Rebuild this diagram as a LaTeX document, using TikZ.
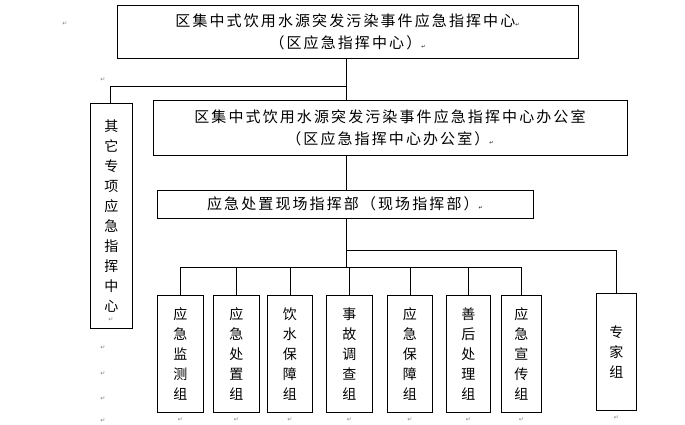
\documentclass[tikz,border=0pt]{standalone}
\usepackage{fontspec}
\newfontfamily\cjk[LetterSpace=14]{Noto Sans CJK SC}
\newfontfamily\djv{DejaVu Sans}
\begin{document}
\begin{tikzpicture}[x=1pt,y=-1pt,
  box/.style={draw,line width=0.8pt,inner sep=0pt,font=\cjk\fontsize{15}{22}\selectfont,align=center},
  vbox/.style={draw,line width=0.8pt,inner sep=0pt,font=\cjk\fontsize{14}{20}\selectfont,align=center,anchor=north west},
  ln/.style={line width=0.6pt},
  pm/.style={font=\djv\fontsize{6}{6}\selectfont,text=gray,inner sep=0pt}]
\useasboundingbox (0,0) rectangle (685,425);
\node[box,minimum width=461,minimum height=53] (top) at (347.5,31.5) {区集中式饮用水源突发污染事件应急指挥中心{\djv\tiny↵}\\（区应急指挥中心）{\djv\tiny↵}};
\node[box,minimum width=474,minimum height=55] (off) at (390,127.5) {区集中式饮用水源突发污染事件应急指挥中心办公室\\（区应急指挥中心办公室）{\djv\tiny↵}};
\node[box,minimum width=376,minimum height=28] (site) at (345,204) {应急处置现场指挥部（现场指挥部）{\djv\tiny↵}};
\node[vbox,minimum width=42,minimum height=225] (other) at (90,103) {其\\它\\专\\项\\应\\急\\指\\挥\\中\\心};
\node[pm] at (111,320) {↵};
\foreach \n/\xa/\w/\t in {g1/157/46/{应\\急\\监\\测\\组},g2/213/46/{应\\急\\处\\置\\组},g3/267/45/{饮\\水\\保\\障\\组},g4/326/46/{事\\故\\调\\查\\组},g5/387/45/{应\\急\\保\\障\\组},g6/446/44/{善\\后\\处\\理\\组},g7/501/40/{应\\急\\宣\\传\\组}}
  {\node[vbox,minimum width=\w,minimum height=117] (\n) at (\xa,295) {\t};
   \node[pm] at ([yshift=-7]\n.south) {↵};}
\node[vbox,minimum width=40,minimum height=117] (g8) at (596,293) {专\\家\\组};
\node[pm] at ([yshift=-7]g8.south) {↵};
\coordinate (j1) at (346,86);
\coordinate (l1) at (110,86);
\coordinate (j2) at (346,250);
\coordinate (r2) at (616,250);
\coordinate (j3) at (346,267);
\coordinate (a3) at (180,267);
\coordinate (b3) at (521,267);
\draw[ln] (top.south -| j1) -- (off.north -| j1);
\draw[ln] (j1) -- (l1) -- (other.north -| l1);
\draw[ln] (off.south -| j1) -- (site.north -| j1);
\draw[ln] (site.south -| j1) -- (j3);
\draw[ln] (j2) -- (r2) -- (g8.north -| r2);
\draw[ln] (a3) -- (b3);
\foreach \n in {g1,g2,g3,g4,g5,g6,g7} \draw[ln] (\n.north |- a3) -- (\n.north);
\foreach \p in {(65,24),(103,80),(103,348),(103,374),(103,399),(103,421)} \node[pm] at \p {↵};
\end{tikzpicture}
\end{document}
